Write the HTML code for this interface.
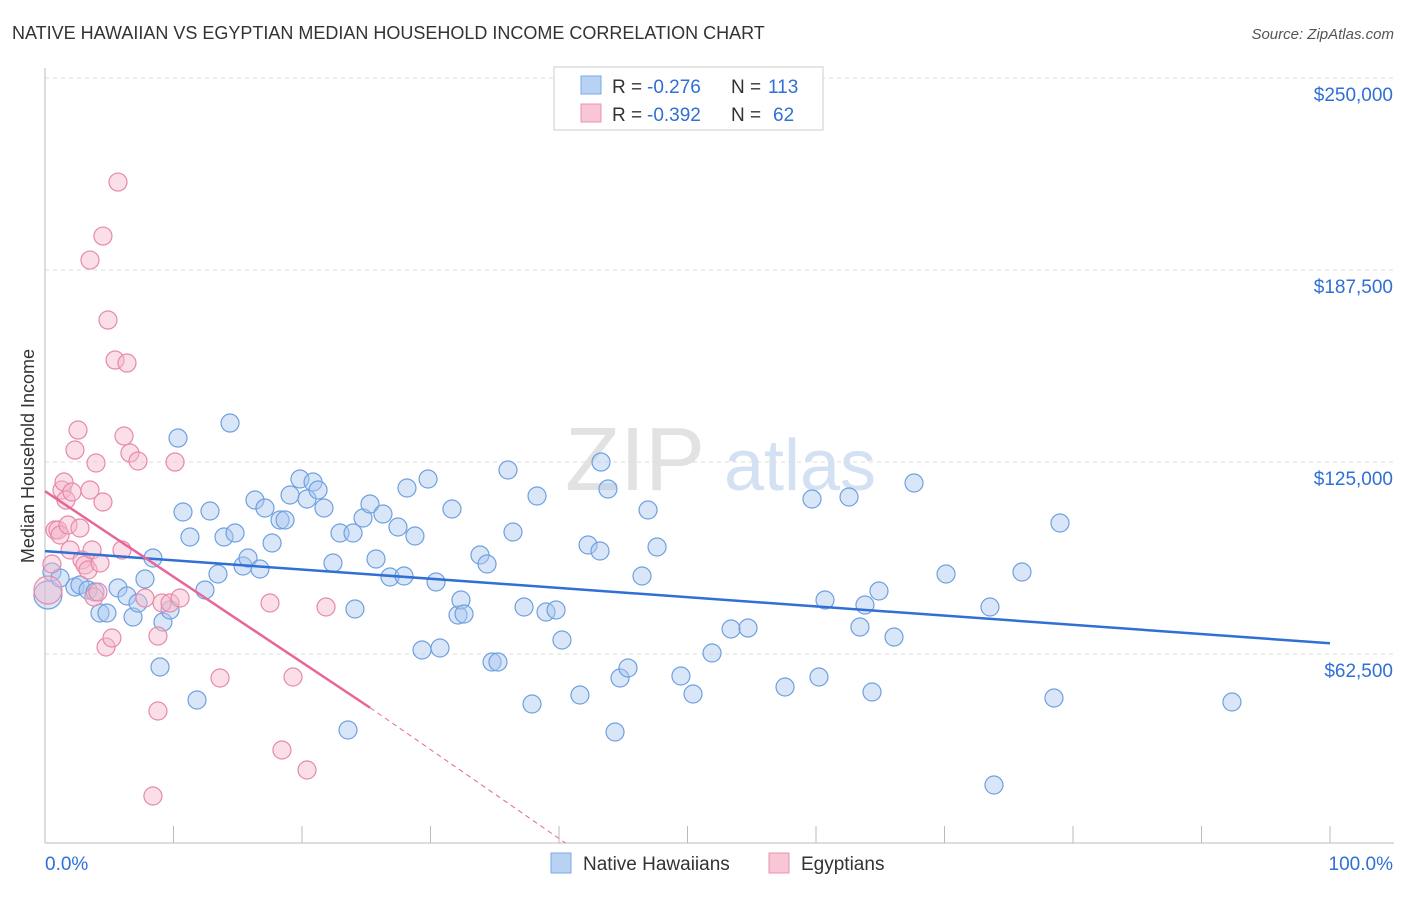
<!DOCTYPE html>
<html><head><meta charset="utf-8"><style>
body{margin:0;background:#fff;font-family:"Liberation Sans",sans-serif;}
svg text{font-family:"Liberation Sans",sans-serif;}
</style></head><body>
<svg id="chart" width="1406" height="892" xmlns="http://www.w3.org/2000/svg">
<text x="12" y="39" font-size="18" fill="#333">NATIVE HAWAIIAN VS EGYPTIAN MEDIAN HOUSEHOLD INCOME CORRELATION CHART</text>
<text x="1394" y="39" font-size="15" fill="#555" font-style="italic" text-anchor="end">Source: ZipAtlas.com</text>
<text x="0" y="0" transform="translate(34,456) rotate(-90)" font-size="18" fill="#333" text-anchor="middle">Median Household Income</text>
<g><text x="635" y="490" font-size="90" fill="#e2e2e2" font-family="Liberation Serif" text-anchor="middle">ZIP</text><text x="800" y="490" font-size="72" fill="#d3e1f3" text-anchor="middle">atlas</text></g>
<g id="grid"></g><g id="pts"></g><g id="lines"></g>
<g>
<rect x="554" y="67" width="269" height="63" fill="#fff" stroke="#ccc"/>
<rect x="581" y="76" width="20" height="18" fill="#b8d2f3" stroke="#7aa8e6"/>
<rect x="581" y="104" width="20" height="18" fill="#f9c6d5" stroke="#ec93b0"/>
<text x="612" y="93" font-size="19" fill="#333">R =</text>
<text x="647" y="93" font-size="19" fill="#2f6fd6">-0.276</text>
<text x="731" y="93" font-size="19" fill="#333">N =</text>
<text x="768" y="93" font-size="19" fill="#2f6fd6">113</text>
<text x="612" y="121" font-size="19" fill="#333">R =</text>
<text x="647" y="121" font-size="19" fill="#2f6fd6">-0.392</text>
<text x="731" y="121" font-size="19" fill="#333">N =</text>
<text x="773" y="121" font-size="19" fill="#2f6fd6">62</text>
</g>
<g>
<rect x="551" y="853" width="20" height="20" fill="#b8d2f3" stroke="#7aa8e6"/>
<text x="583" y="870" font-size="19" fill="#333">Native Hawaiians</text>
<rect x="769" y="853" width="20" height="20" fill="#f9c6d5" stroke="#ec93b0"/>
<text x="801" y="870" font-size="19" fill="#333">Egyptians</text>
</g>
<text x="45" y="870" font-size="19" fill="#2f6fd6">0.0%</text>
<text x="1393" y="870" font-size="19" fill="#2f6fd6" text-anchor="end">100.0%</text>
</svg>
<script>
const yTicks=[62500,125000,187500,250000];
const yTickLabels=["$62,500","$125,000","$187,500","$250,000"];
const bluePx=[[48,595],[52,572],[60,578],[75,587],[80,585],[88,590],[95,592],[100,613],[107,613],[118,588],[127,596],[133,617],[138,603],[145,579],[153,558],[160,667],[163,622],[170,610],[178,438],[183,512],[190,537],[197,700],[205,590],[210,511],[218,574],[224,537],[230,423],[235,533],[243,566],[248,558],[255,500],[260,569],[265,508],[272,543],[280,520],[285,520],[290,495],[300,479],[307,499],[313,482],[318,490],[324,508],[333,563],[340,533],[348,730],[353,533],[355,609],[363,518],[370,504],[376,559],[383,514],[390,577],[398,527],[404,576],[407,488],[415,536],[422,650],[428,479],[436,582],[440,648],[452,509],[458,615],[461,600],[464,614],[480,555],[487,564],[492,662],[498,662],[508,470],[513,532],[524,607],[532,704],[537,496],[546,612],[556,610],[562,640],[580,695],[588,545],[600,551],[601,462],[608,489],[615,732],[620,678],[628,668],[642,576],[648,510],[657,547],[681,676],[693,694],[712,653],[731,629],[748,628],[785,687],[812,499],[819,677],[825,600],[849,497],[860,627],[865,605],[872,692],[879,591],[894,637],[914,483],[946,574],[994,785],[990,607],[1022,572],[1054,698],[1060,523],[1232,702]];
const pinkPx=[[48,590],[52,564],[55,530],[58,530],[60,535],[62,490],[64,482],[66,500],[68,525],[70,550],[72,492],[75,450],[78,430],[80,528],[82,560],[85,565],[88,570],[90,490],[92,550],[94,597],[96,463],[98,592],[100,563],[103,502],[103,236],[106,647],[108,320],[112,638],[115,360],[118,182],[122,550],[124,436],[127,363],[130,453],[138,461],[145,598],[153,796],[158,711],[158,636],[162,603],[170,603],[175,462],[180,598],[220,678],[270,603],[282,750],[293,677],[307,770],[326,607],[90,260]];
const blueX=bluePx.map(p=>+((p[0]-45)/12.85).toFixed(2));
const blueY=bluePx.map(p=>Math.round((846-p[1])*325.5));
const pinkX=pinkPx.map(p=>+((p[0]-45)/12.85).toFixed(2));
const pinkY=pinkPx.map(p=>Math.round((846-p[1])*325.5));
const blueTrend=[[0,96000],[100,66000]];
const pinkTrend=[[0,115500],[25.3,45000],[40.5,1000]];
const xs=v=>45+v*12.85, ys=v=>846-v*192/62500;
const NS="http://www.w3.org/2000/svg";
function mk(t,a,p){const e=document.createElementNS(NS,t);for(const k in a)e.setAttribute(k,a[k]);p.appendChild(e);return e;}
const g=document.getElementById('grid');
yTicks.forEach((t,i)=>{
 const l=mk('line',{x1:45,x2:1394,y1:ys(t),y2:ys(t),stroke:'#ddd','stroke-dasharray':'4,4'},g);
 
 
 const tx=mk('text',{x:1393,y:ys(t)+23,'font-size':19,fill:'#2f6fd6','text-anchor':'end'},g);
 tx.textContent=yTickLabels[i];
 
 
});
const ax=mk('line',{x1:45,x2:1394,y1:843,y2:843,stroke:'#bbb'},g);


const ay=mk('line',{x1:45,x2:45,y1:68,y2:843,stroke:'#bbb'},g);


for(let i=0;i<=10;i++){const x=45+i*128.5;const t=mk('line',{x1:x,x2:x,y1:826,y2:843,stroke:'#bbb'},g);
 
 }
const pg=document.getElementById('pts');
function pts(X,Y,fill,stroke,name){X.forEach((x,i)=>{const r=i==0?14:9;
 const c=mk('circle',{cx:xs(x),cy:ys(Y[i]),r:r,fill:fill,'fill-opacity':0.45,stroke:stroke,'stroke-width':1.2},pg);
 
 });}
pts(blueX,blueY,'#a9c8ef','#6fa0e0','native-hawaiian-point');
pts(pinkX,pinkY,'#f5b8cb','#e889a8','egyptian-point');
const lg=document.getElementById('lines');
const bl=mk('line',{x1:xs(blueTrend[0][0]),y1:ys(blueTrend[0][1]),x2:xs(blueTrend[1][0]),y2:ys(blueTrend[1][1]),stroke:'#2f6fd6','stroke-width':2.5},lg);


const pl=mk('line',{x1:xs(pinkTrend[0][0]),y1:ys(pinkTrend[0][1]),x2:xs(pinkTrend[1][0]),y2:ys(pinkTrend[1][1]),stroke:'#e8659a','stroke-width':2.5},lg);


const pd=mk('line',{x1:xs(pinkTrend[1][0]),y1:ys(pinkTrend[1][1]),x2:xs(pinkTrend[2][0]),y2:ys(pinkTrend[2][1]),stroke:'#e8659a','stroke-width':1,'stroke-dasharray':'5,4'},lg);


</script>
</body></html>
